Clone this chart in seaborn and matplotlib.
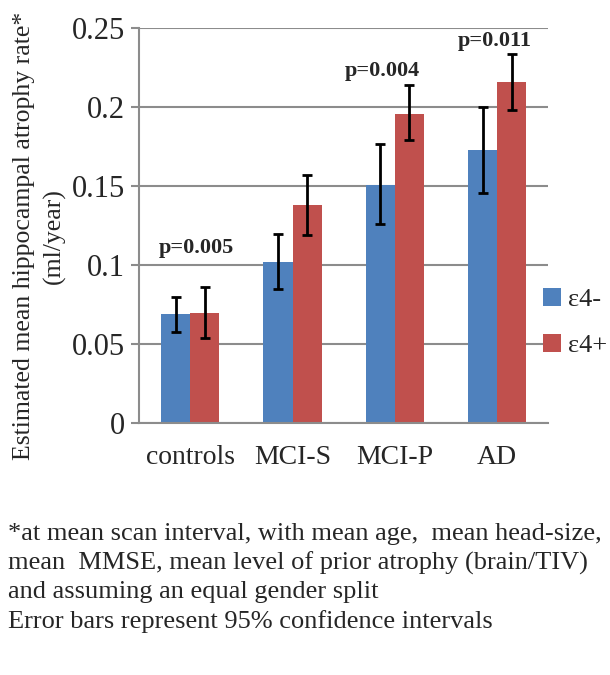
import pandas as pd
import numpy as np
import seaborn as sns
import matplotlib.pyplot as plt

groups = ['controls', 'MCI-S', 'MCI-P', 'AD']
genotypes = ['ε4-', 'ε4+']
rate_neg = [0.069, 0.102, 0.151, 0.173]
rate_pos = [0.070, 0.138, 0.196, 0.216]
lo_neg = [0.058, 0.085, 0.126, 0.146]
hi_neg = [0.080, 0.120, 0.177, 0.200]
lo_pos = [0.054, 0.119, 0.179, 0.198]
hi_pos = [0.086, 0.157, 0.214, 0.234]
p_labels = ['p=0.005', 'p=0.004', 'p=0.011']
p_groups = ['controls', 'MCI-P', 'AD']
p_y = [0.111, 0.223, 0.242]
p_dx = [0.06, -0.12, -0.02]

df = pd.DataFrame({
    'grupo': groups * 2,
    'apoe': [genotypes[0]] * 4 + [genotypes[1]] * 4,
    'taxa': rate_neg + rate_pos,
    'lo': lo_neg + lo_pos,
    'hi': hi_neg + hi_pos,
})

sns.set_style('white')
plt.rcParams['font.family'] = ['Liberation Serif', 'DejaVu Serif']

fig = plt.figure(figsize=(6.1, 6.75), dpi=100)
ax = fig.add_axes([0.228, 0.373, 0.671, 0.585])

cores = {'ε4-': '#4F81BD', 'ε4+': '#C0504D'}
sns.barplot(data=df, x='grupo', y='taxa', hue='apoe', palette=cores,
            width=0.57, errorbar=None, saturation=1, linewidth=0, ax=ax, zorder=2)

# barras de erro a partir das barras desenhadas
for cont, apoe in zip(ax.containers, genotypes):
    sub = df[df.apoe == apoe]
    xs = [b.get_x() + b.get_width() / 2 for b in cont]
    ys = sub.taxa.values
    err = [ys - sub.lo.values, sub.hi.values - ys]
    ax.errorbar(xs, ys, yerr=err, fmt='none', ecolor='black', elinewidth=2,
                capsize=3.5, capthick=2, zorder=3)

for lab, g, y, dx in zip(p_labels, p_groups, p_y, p_dx):
    ax.text(groups.index(g) + dx, y, lab, ha='center', va='center',
            fontsize=16, fontweight='bold')

ax.set_ylim(0, 0.25)
ax.set_yticks([0, 0.05, 0.1, 0.15, 0.2, 0.25])
ax.set_yticklabels(['0', '0.05', '0.1', '0.15', '0.2', '0.25'], fontsize=22)
ax.set_xlim(-0.5, 3.5)
ax.set_xticks([0, 1, 2, 3])
ax.set_xticklabels(groups, fontsize=20)
ax.set_xticks([-0.5, 0.5, 1.5, 2.5, 3.5], minor=True)
ax.tick_params(axis='x', which='major', length=0, pad=16)
ax.tick_params(axis='x', which='minor', length=6, color='#8c8c8c', width=1.5, direction='out')
ax.tick_params(axis='y', length=6, color='#8c8c8c', width=1.5, direction='out', left=True, pad=4)
ax.grid(axis='y', color='#8c8c8c', linewidth=1.5, zorder=0)
ax.set_axisbelow(True)
for s in ['top', 'right']:
    ax.spines[s].set_visible(False)
for s in ['left', 'bottom']:
    ax.spines[s].set_color('#8c8c8c')
    ax.spines[s].set_linewidth(1.5)
ax.set_xlabel('')
ax.set_ylabel('Estimated mean hippocampal atrophy rate*\n(ml/year)', fontsize=18.5,
              linespacing=1.4)
ax.yaxis.set_label_coords(-0.18, 0.475)

leg = ax.legend(loc='center left', bbox_to_anchor=(0.96, 0.255), frameon=False,
                fontsize=19, handlelength=0.7, handleheight=0.7, handletextpad=0.25,
                labelspacing=0.85, borderaxespad=0)

nota = ('*at mean scan interval, with mean age,  mean head-size,\n'
        'mean  MMSE, mean level of prior atrophy (brain/TIV)\n'
        'and assuming an equal gender split\n'
        'Error bars represent 95% confidence intervals')
fig.text(0.013, 0.225, nota, ha='left', va='top', fontsize=19, linespacing=1.36)

plt.savefig('out.png', dpi=100)
